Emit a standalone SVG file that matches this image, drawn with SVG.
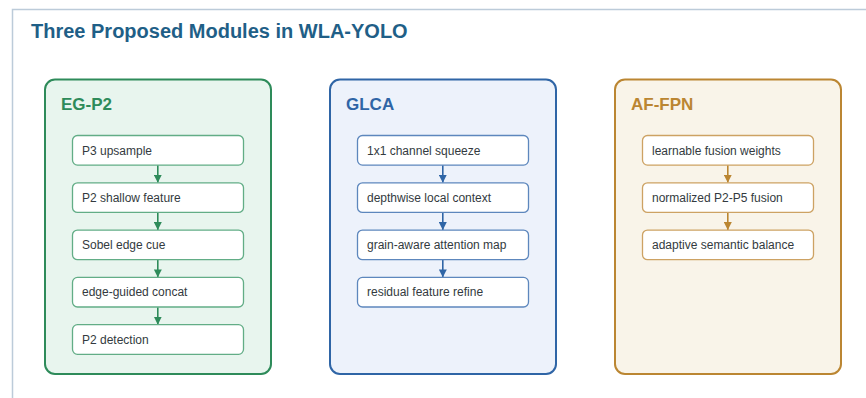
<svg xmlns="http://www.w3.org/2000/svg" width="866" height="398" viewBox="0 0 866 398">
<style>
text{font-family:"Liberation Sans",Arial,sans-serif}
.title{font-size:20px;font-weight:bold;fill:#1f5f87}
.ptitle{font-size:17px;font-weight:bold}
.lbl{font-size:12px;fill:#333a40}
.box{fill:#ffffff;stroke-width:1.3}
.g .panel{fill:#e8f5ee;stroke:#2e8b5a;stroke-width:2}
.g .box{stroke:#62ad86}
.g .ptitle{fill:#2e8b5a}
.b .panel{fill:#edf2fb;stroke:#2f65a6;stroke-width:2}
.b .box{stroke:#5d87bd}
.b .ptitle{fill:#2f65a6}
.o .panel{fill:#f9f4e9;stroke:#bb8632;stroke-width:2}
.o .box{stroke:#cda263}
.o .ptitle{fill:#bb8632}
.cg{stroke:#2e8b5a;stroke-width:1.6}
.cb{stroke:#2f65a6;stroke-width:1.6}
.co{stroke:#bb8632;stroke-width:1.6}
</style>
<defs>
<marker id="ag" viewBox="0 0 8 8" refX="8" refY="4" markerWidth="8" markerHeight="8" markerUnits="userSpaceOnUse" orient="auto"><path d="M0,0 L8,4 L0,8 z" fill="#2e8b5a"/></marker>
<marker id="ab" viewBox="0 0 8 8" refX="8" refY="4" markerWidth="8" markerHeight="8" markerUnits="userSpaceOnUse" orient="auto"><path d="M0,0 L8,4 L0,8 z" fill="#2f65a6"/></marker>
<marker id="ao" viewBox="0 0 8 8" refX="8" refY="4" markerWidth="8" markerHeight="8" markerUnits="userSpaceOnUse" orient="auto"><path d="M0,0 L8,4 L0,8 z" fill="#bb8632"/></marker>
</defs>
<rect x="0" y="0" width="866" height="398" fill="#ffffff"/>
<rect x="12.5" y="9.5" width="900" height="420" fill="none" stroke="#bccbd9" stroke-width="1.5"/>
<text class="title" x="31" y="38">Three Proposed Modules in WLA-YOLO</text>

<g id="panel-egp2" class="g">
<rect class="panel" x="45" y="79.5" width="226" height="294.5" rx="10"/>
<text class="ptitle" x="61" y="109.5">EG-P2</text>
</g>
<g id="panel-glca" class="b">
<rect class="panel" x="330" y="79.5" width="226" height="294.5" rx="10"/>
<text class="ptitle" x="346" y="109.5">GLCA</text>
</g>
<g id="panel-affpn" class="o">
<rect class="panel" x="615" y="79.5" width="226" height="294.5" rx="10"/>
<text class="ptitle" x="631" y="109.5">AF-FPN</text>
</g>

<g id="connectors" fill="none">
<line class="cg" x1="157.8" y1="165.3" x2="157.8" y2="182.8" marker-end="url(#ag)"/>
<line class="cg" x1="157.8" y1="212.6" x2="157.8" y2="230.1" marker-end="url(#ag)"/>
<line class="cg" x1="157.8" y1="259.9" x2="157.8" y2="277.4" marker-end="url(#ag)"/>
<line class="cg" x1="157.8" y1="307.2" x2="157.8" y2="324.7" marker-end="url(#ag)"/>
<line class="cb" x1="442.8" y1="165.3" x2="442.8" y2="182.8" marker-end="url(#ab)"/>
<line class="cb" x1="442.8" y1="212.6" x2="442.8" y2="230.1" marker-end="url(#ab)"/>
<line class="cb" x1="442.8" y1="259.9" x2="442.8" y2="277.4" marker-end="url(#ab)"/>
<line class="co" x1="727.8" y1="165.3" x2="727.8" y2="182.8" marker-end="url(#ao)"/>
<line class="co" x1="727.8" y1="212.6" x2="727.8" y2="230.1" marker-end="url(#ao)"/>
</g>

<g class="g">
<g id="eg1"><rect class="box" x="72.5" y="135.5" width="171" height="29.6" rx="5"/><text class="lbl" x="82" y="154.5">P3 upsample</text></g>
<g id="eg2"><rect class="box" x="72.5" y="182.8" width="171" height="29.6" rx="5"/><text class="lbl" x="82" y="201.8">P2 shallow feature</text></g>
<g id="eg3"><rect class="box" x="72.5" y="230.1" width="171" height="29.6" rx="5"/><text class="lbl" x="82" y="249.1">Sobel edge cue</text></g>
<g id="eg4"><rect class="box" x="72.5" y="277.4" width="171" height="29.6" rx="5"/><text class="lbl" x="82" y="296.4">edge-guided concat</text></g>
<g id="eg5"><rect class="box" x="72.5" y="324.7" width="171" height="29.6" rx="5"/><text class="lbl" x="82" y="343.7">P2 detection</text></g>
</g>
<g class="b">
<g id="gl1"><rect class="box" x="357.5" y="135.5" width="171" height="29.6" rx="5"/><text class="lbl" x="367" y="154.5">1x1 channel squeeze</text></g>
<g id="gl2"><rect class="box" x="357.5" y="182.8" width="171" height="29.6" rx="5"/><text class="lbl" x="367" y="201.8">depthwise local context</text></g>
<g id="gl3"><rect class="box" x="357.5" y="230.1" width="171" height="29.6" rx="5"/><text class="lbl" x="367" y="249.1">grain-aware attention map</text></g>
<g id="gl4"><rect class="box" x="357.5" y="277.4" width="171" height="29.6" rx="5"/><text class="lbl" x="367" y="296.4">residual feature refine</text></g>
</g>
<g class="o">
<g id="af1"><rect class="box" x="642.5" y="135.5" width="171" height="29.6" rx="5"/><text class="lbl" x="652" y="154.5">learnable fusion weights</text></g>
<g id="af2"><rect class="box" x="642.5" y="182.8" width="171" height="29.6" rx="5"/><text class="lbl" x="652" y="201.8">normalized P2-P5 fusion</text></g>
<g id="af3"><rect class="box" x="642.5" y="230.1" width="171" height="29.6" rx="5"/><text class="lbl" x="652" y="249.1">adaptive semantic balance</text></g>
</g>
</svg>
